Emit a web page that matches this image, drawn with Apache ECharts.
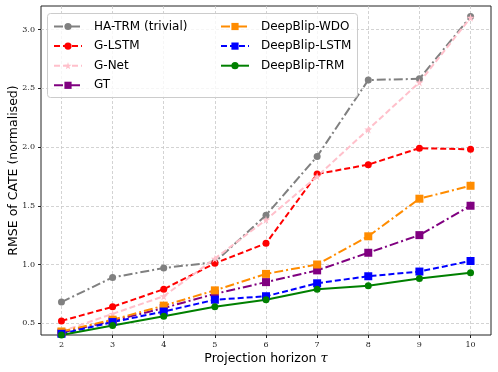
<!DOCTYPE html>
<html><head><meta charset="utf-8">
<script src="https://cdn.jsdelivr.net/npm/echarts@6/dist/echarts.min.js"></script>
<style>html,body{margin:0;padding:0;background:#fff}#c{width:498px;height:372px}</style>
</head><body><div id="c"></div>
<script>
const horizons = [2,3,4,5,6,7,8,9,10];
const xTicks = [2,3,4,5,6,7,8,9,10];
const yTicks = [0.5,1.0,1.5,2.0,2.5,3.0];
const haTrm = [0.68,0.89,0.97,1.02,1.42,1.92,2.57,2.58,3.11];
const gLstm = [0.52,0.64,0.79,1.01,1.18,1.77,1.85,1.99,1.98];
const gNet  = [0.43,0.58,0.73,1.05,1.38,1.75,2.15,2.55,3.10];
const gt    = [0.42,0.52,0.63,0.75,0.85,0.95,1.10,1.25,1.50];
const wdo   = [0.43,0.53,0.65,0.78,0.92,1.00,1.24,1.56,1.67];
const dbLstm= [0.41,0.51,0.60,0.70,0.73,0.84,0.90,0.94,1.03];
const dbTrm = [0.40,0.48,0.56,0.64,0.70,0.79,0.82,0.88,0.93];

const STAR = 'path://M50,0 L61,35 L98,35 L68,57 L79,91 L50,70 L21,91 L32,57 L2,35 L39,35 Z';
const DASH = [6,3];
const DASHDOT = [9,3,2,3];
function mk(name, vals, color, symbol, size, dash) {
  return {
    name, type:'line', data: horizons.map((h,i)=>[h, vals[i]]),
    symbol, symbolSize: size, showSymbol:true,
    lineStyle:{color, width:2, type: dash},
    itemStyle:{color}, clip:true, animation:false
  };
}
const series = [
  mk('HA-TRM (trivial)', haTrm, '#808080', 'circle', 7, DASHDOT),
  mk('G-LSTM', gLstm, '#ff0000', 'circle', 7, DASH),
  mk('G-Net', gNet, '#ffc0cb', STAR, 8, DASH),
  mk('GT', gt, '#800080', 'rect', 8, DASHDOT),
  mk('DeepBlip-WDO', wdo, '#ff8c00', 'rect', 8, DASHDOT),
  mk('DeepBlip-LSTM', dbLstm, '#0000ff', 'rect', 8, DASH),
  mk('DeepBlip-TRM', dbTrm, '#008000', 'circle', 7, 'solid')
];
const tickFont = {fontFamily:'DejaVu Serif', fontSize:8, color:'#222'};
const legendCommon = {
  orient:'vertical', itemWidth:28, itemHeight:9, itemGap:7.6,
  formatter: '{a|{name}}',
  textStyle:{fontFamily:'DejaVu Sans', fontSize:12, color:'#000',
    rich:{a:{fontFamily:'DejaVu Sans', fontSize:12, color:'#000', padding:[0,0,0,7]}}},
  padding:0
};
const chart = echarts.init(document.getElementById('c'), null, {renderer:'canvas'});
chart.setOption({
  animation:false,
  backgroundColor:'#fff',
  grid:{left:41, right:7, top:6, bottom:37, outerBoundsMode:'none', containLabel:false,
    show:true, borderColor:'#222', borderWidth:1},
  graphic:[{type:'rect', left:47, top:13, shape:{width:310, height:84, r:3},
    style:{fill:'rgba(255,255,255,0.8)', stroke:'#ccc', lineWidth:1}, z:5}],
  legend:[
    Object.assign({left:53, top:20.5, data:['HA-TRM (trivial)','G-LSTM','G-Net','GT'], z:6}, legendCommon),
    Object.assign({left:220, top:20.5, data:['DeepBlip-WDO','DeepBlip-LSTM','DeepBlip-TRM'], z:6}, legendCommon)
  ],
  xAxis:{type:'value', min:1.6, max:10.4,
    name:'Projection horizon {t|τ}', nameLocation:'middle', nameGap:17, nameMoveOverlap:false,
    nameTextStyle:{fontFamily:'DejaVu Sans', fontSize:12.5, color:'#000', verticalAlign:'top',
      rich:{t:{fontFamily:'DejaVu Serif', fontStyle:'italic', fontSize:13}}},
    axisLine:{show:false},
    axisTick:{show:true, customValues:xTicks, length:3, lineStyle:{color:'#222'}},
    axisLabel:{customValues:xTicks, ...tickFont, margin:6},
    splitLine:{show:true, lineStyle:{color:'#c8c8c8', type:[3,2], width:0.8}}
  },
  yAxis:{type:'value', min:0.4, max:3.2,
    name:'RMSE of CATE (normalised)', nameLocation:'middle', nameGap:21, nameMoveOverlap:false,
    nameTextStyle:{fontFamily:'DejaVu Sans', fontSize:12.5, color:'#000'},
    axisLine:{show:false},
    axisTick:{show:true, customValues:yTicks, length:3, lineStyle:{color:'#222'}},
    axisLabel:{customValues:yTicks, ...tickFont, margin:6, formatter:v=>v.toFixed(1)},
    splitLine:{show:true, lineStyle:{color:'#c8c8c8', type:[3,2], width:0.8}}
  },
  series
});
</script></body></html>
